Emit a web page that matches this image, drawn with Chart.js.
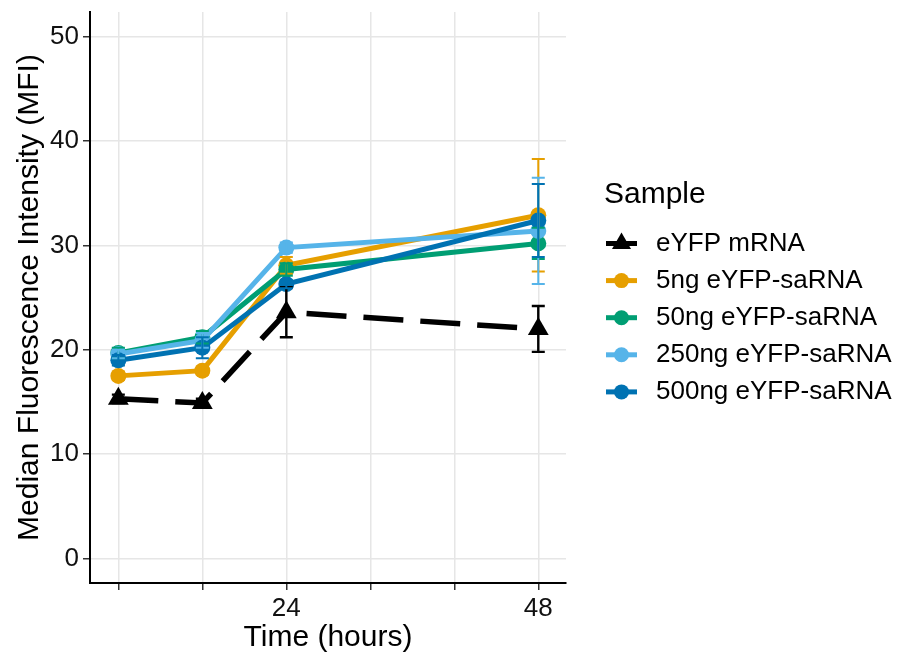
<!DOCTYPE html>
<html>
<head>
<meta charset="utf-8">
<script src="https://cdn.jsdelivr.net/npm/chart.js@4.4.1/dist/chart.umd.min.js"></script>
<style>
  html, body { margin: 0; padding: 0; background: #fff; }
  #wrap { width: 899px; height: 656px; position: relative; }
</style>
</head>
<body>
<div id="wrap"><canvas id="lineChart"></canvas></div>
<script>
// Laiks (stundas) un ass iedaļas
const hours = [8, 16, 24, 48];
const xTicks = [8, 16, 24, 32, 40, 48];
const xTickLabels = ['', '', '24', '', '', '48'];
const yTicks = [0, 10, 20, 30, 40, 50];

// Paraugi
const sampleNames = ['eYFP mRNA', '5ng eYFP-saRNA', '50ng eYFP-saRNA', '250ng eYFP-saRNA', '500ng eYFP-saRNA'];
const sampleColors = ['#000000', '#E69F00', '#009E73', '#56B4E9', '#0072B2'];

// Mediānā fluorescence (MFI) un kļūdas
const mrnaValues = [15.3, 14.9, 23.6, 22.0];
const mrnaErr = [0.4, 0.4, 2.4, 2.2];
const ng5Values = [17.5, 18.0, 28.1, 32.9];
const ng5Err = [0.4, 0.4, 0.8, 5.4];
const ng50Values = [19.7, 21.2, 27.7, 30.2];
const ng50Err = [0.5, 0.6, 0.6, 1.5];
const ng250Values = [19.6, 20.9, 29.8, 31.4];
const ng250Err = [0.4, 0.7, 0.5, 5.1];
const ng500Values = [19.0, 20.2, 26.3, 32.4];
const ng500Err = [0.5, 1.0, 0.4, 3.5];

const allValues = [mrnaValues, ng5Values, ng50Values, ng250Values, ng500Values];
const allErr = [mrnaErr, ng5Err, ng50Err, ng250Err, ng500Err];

const FONT = "'Liberation Sans', Arial, sans-serif";

// Kļūdu stabiņi
const errorBars = {
    id: 'errorBars',
    afterDatasetsDraw(chart) {
        const { ctx, scales: { x, y } } = chart;
        ctx.save();
        allValues.forEach((vals, i) => {
            ctx.strokeStyle = sampleColors[i];
            ctx.lineWidth = i === 0 ? 2.4 : 2;
            hours.forEach((h, j) => {
                const px = x.getPixelForValue(h);
                const lo = y.getPixelForValue(vals[j] - allErr[i][j]);
                const hi = y.getPixelForValue(vals[j] + allErr[i][j]);
                ctx.beginPath();
                ctx.moveTo(px, lo); ctx.lineTo(px, hi);
                ctx.moveTo(px - 6.5, lo); ctx.lineTo(px + 6.5, lo);
                ctx.moveTo(px - 6.5, hi); ctx.lineTo(px + 6.5, hi);
                ctx.stroke();
            });
        });
        ctx.restore();
    }
};

// Leģenda labajā pusē
const sampleLegend = {
    id: 'sampleLegend',
    afterDraw(chart) {
        const ctx = chart.ctx;
        ctx.save();
        ctx.fillStyle = '#000';
        ctx.textBaseline = 'middle';
        ctx.textAlign = 'left';
        ctx.font = '30px ' + FONT;
        ctx.fillText('Sample', 604, 195);
        ctx.font = '26px ' + FONT;
        sampleNames.forEach((name, i) => {
            const yy = 243.5 + i * 37.1;
            ctx.strokeStyle = sampleColors[i];
            ctx.fillStyle = sampleColors[i];
            ctx.lineWidth = 5;
            ctx.beginPath();
            ctx.moveTo(606, yy); ctx.lineTo(637, yy);
            ctx.stroke();
            ctx.beginPath();
            if (i === 0) {
                ctx.moveTo(621.5, yy - 11);
                ctx.lineTo(621.5 + 9.5, yy + 5.5);
                ctx.lineTo(621.5 - 9.5, yy + 5.5);
                ctx.closePath();
            } else {
                ctx.arc(621.5, yy, 7.5, 0, Math.PI * 2);
            }
            ctx.fill();
            ctx.fillStyle = '#000';
            ctx.fillText(name, 656, yy);
        });
        ctx.restore();
    }
};

const datasets = sampleNames.map((name, i) => ({
    label: name,
    data: hours.map((h, j) => ({ x: h, y: allValues[i][j] })),
    borderColor: sampleColors[i],
    backgroundColor: sampleColors[i],
    borderWidth: i === 0 ? 5.5 : 5,
    borderDash: i === 0 ? [40, 17] : [],
    pointStyle: i === 0 ? 'triangle' : 'circle',
    pointRadius: i === 0 ? 12 : 8,
    pointBorderWidth: 0,
    tension: 0,
    order: sampleNames.length - i
}));

const ctx = document.getElementById('lineChart').getContext('2d');
new Chart(ctx, {
    type: 'line',
    data: { datasets },
    options: {
        responsive: true,
        maintainAspectRatio: false,
        animation: false,
        layout: { padding: { left: 0, top: 10, right: 333, bottom: 0 } },
        plugins: {
            legend: { display: false },
            tooltip: { enabled: false }
        },
        scales: {
            x: {
                type: 'linear',
                min: 5.3,
                max: 50.64,
                afterBuildTicks: axis => { axis.ticks = xTicks.map(v => ({ value: v })); },
                afterFit: axis => { axis.height = 73; axis.paddingLeft = 0; axis.paddingRight = 0; },
                ticks: {
                    padding: 3,
                    maxRotation: 0,
                    autoSkip: false,
                    color: '#111',
                    font: { family: FONT, size: 26 },
                    callback: (v, idx) => xTickLabels[idx]
                },
                grid: { color: '#E6E6E6', lineWidth: 1.5, tickLength: 7, tickColor: '#333', tickWidth: 1.5 },
                border: { display: true, color: '#000', width: 2 },
                title: {
                    display: true,
                    text: 'Time (hours)',
                    color: '#000',
                    font: { family: FONT, size: 30 },
                    padding: { top: 2, bottom: 0 }
                }
            },
            y: {
                min: -2.36,
                max: 52.39,
                afterBuildTicks: axis => { axis.ticks = yTicks.map(v => ({ value: v })); },
                afterFit: axis => { axis.width = 90; axis.paddingTop = 0; axis.paddingBottom = 0; },
                ticks: {
                    padding: 4,
                    color: '#111',
                    font: { family: FONT, size: 26 },
                    callback: v => String(v)
                },
                grid: { color: '#E6E6E6', lineWidth: 1.5, tickLength: 7, tickColor: '#333', tickWidth: 1.5 },
                border: { display: true, color: '#000', width: 2 },
                title: {
                    display: true,
                    text: 'Median Fluorescence Intensity (MFI)',
                    color: '#000',
                    font: { family: FONT, size: 30 },
                    padding: { top: 12, bottom: 0 }
                }
            }
        }
    },
    plugins: [errorBars, sampleLegend]
});
</script>
</body>
</html>
